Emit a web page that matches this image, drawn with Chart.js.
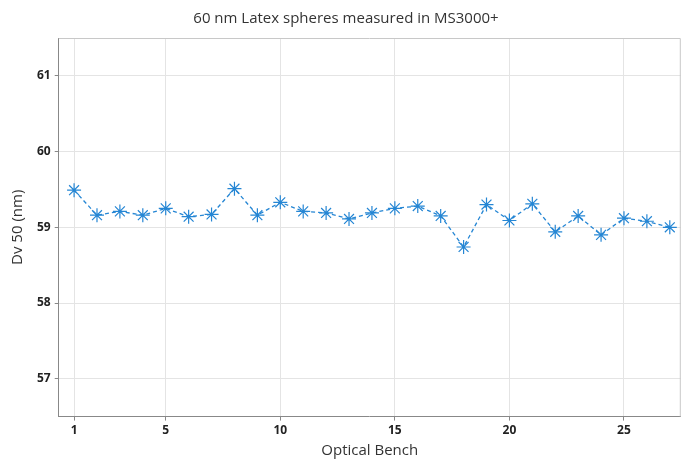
<!DOCTYPE html>
<html>
<head>
<meta charset="utf-8">
<script src="https://cdn.jsdelivr.net/npm/chart.js@4"></script>
<style>
    html, body { margin: 0; padding: 0; background: #fff; }
    #wrap { width: 689px; height: 463px; }
</style>
</head>
<body>
<div id="wrap"><canvas id="chart"></canvas></div>
<script>
// Data
const benches = [1, 2, 3, 4, 5, 6, 7, 8, 9, 10, 11, 12, 13, 14, 15, 16, 17, 18, 19, 20, 21, 22, 23, 24, 25, 26, 27];
const dv50 = [59.49, 59.16, 59.21, 59.16, 59.25, 59.14, 59.17, 59.51, 59.16, 59.33, 59.21, 59.19, 59.11, 59.19, 59.25, 59.28, 59.15, 58.74, 59.30, 59.09, 59.31, 58.94, 59.15, 58.90, 59.12, 59.08, 59.00];
const xTicks = [1, 5, 10, 15, 20, 25];
const yTicks = [57, 58, 59, 60, 61];

const fontFamily = "'Open Sans', 'Noto Sans', sans-serif";

// Box round the plot area (right and top edges)
const frame = {
    id: 'frame',
    beforeDatasetsDraw(chart) {
        const { ctx, chartArea } = chart;
        ctx.save();
        ctx.strokeStyle = '#c8c8c8';
        ctx.lineWidth = 1;
        ctx.beginPath();
        ctx.moveTo(chartArea.left, chartArea.top + 0.5);
        ctx.lineTo(chartArea.right - 0.5, chartArea.top + 0.5);
        ctx.lineTo(chartArea.right - 0.5, chartArea.bottom);
        ctx.stroke();
        ctx.restore();
    }
};

const ctx = document.getElementById('chart').getContext('2d');
new Chart(ctx, {
    type: 'line',
    data: {
        datasets: [{
            data: benches.map((b, i) => ({ x: b, y: dv50[i] })),
            borderColor: '#2586d4',
            borderWidth: 1.3,
            borderDash: [4, 3],
            pointStyle: 'star',
            pointRadius: 7,
            pointBorderWidth: 1.2,
            pointBorderColor: '#2586d4',
            pointBackgroundColor: '#2586d4',
            tension: 0
        }]
    },
    plugins: [frame],
    options: {
        responsive: true,
        maintainAspectRatio: false,
        animation: false,
        layout: { padding: { left: 9, right: 6, top: 0, bottom: 3 } },
        plugins: {
            legend: { display: false },
            tooltip: { enabled: false },
            title: {
                display: true,
                text: '60 nm Latex spheres measured in MS3000+',
                color: '#333',
                font: { family: fontFamily, size: 15, weight: 'normal' },
                padding: { top: 10, bottom: 10 }
            }
        },
        scales: {
            x: {
                type: 'linear',
                min: 0.33,
                max: 27.48,
                afterBuildTicks: (axis) => { axis.ticks = xTicks.map(v => ({ value: v })); },
                grid: { color: '#e4e4e4', drawTicks: true, tickLength: 4, tickColor: '#888' },
                border: { color: '#888', width: 1 },
                ticks: {
                    color: '#222',
                    font: { family: fontFamily, size: 12, weight: 'bold' },
                    maxRotation: 0,
                    padding: 3
                },
                title: {
                    display: true,
                    text: 'Optical Bench',
                    color: '#333',
                    font: { family: fontFamily, size: 15 },
                    padding: { top: 1, bottom: 0 }
                }
            },
            y: {
                min: 56.5,
                max: 61.5,
                afterBuildTicks: (axis) => { axis.ticks = yTicks.map(v => ({ value: v })); },
                grid: { color: '#e4e4e4', drawTicks: true, tickLength: 4, tickColor: '#888' },
                border: { color: '#888', width: 1 },
                ticks: {
                    color: '#222',
                    font: { family: fontFamily, size: 12, weight: 'bold' },
                    padding: 4
                },
                title: {
                    display: true,
                    text: 'Dv 50 (nm)',
                    color: '#333',
                    font: { family: fontFamily, size: 15 },
                    padding: { top: 0, bottom: 6 }
                }
            }
        }
    }
});
</script>
</body>
</html>
